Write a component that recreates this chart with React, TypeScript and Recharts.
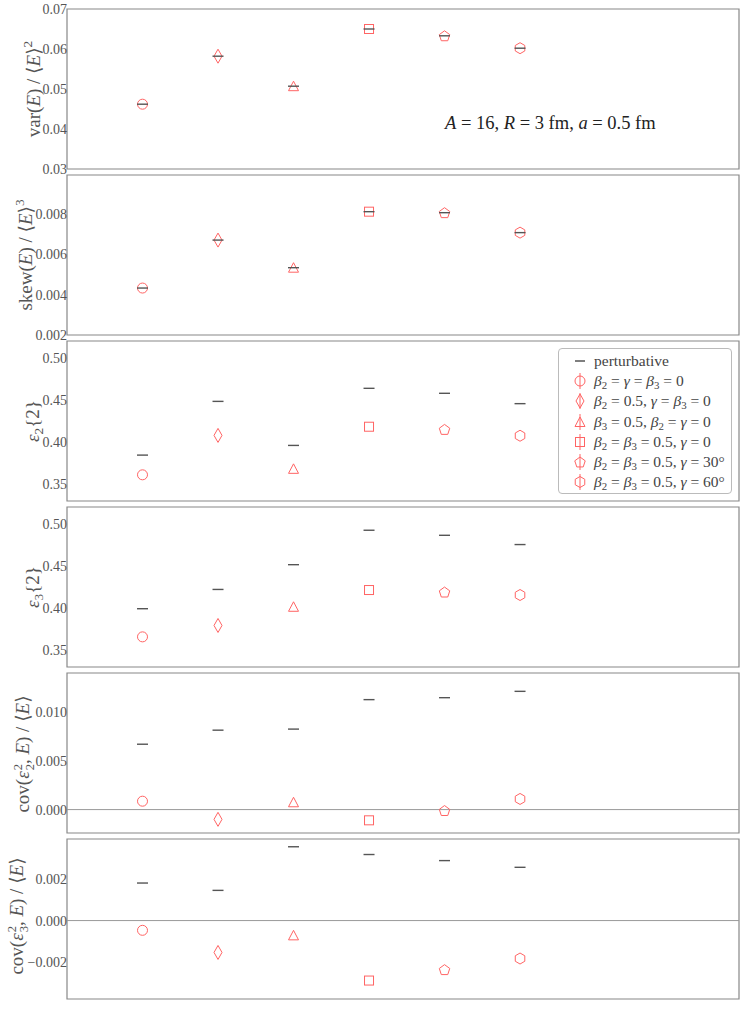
import React from "react";
import {
  ReferenceArea,
  ReferenceLine,
  Scatter,
  ScatterChart,
  XAxis,
  YAxis,
} from "recharts";

// six source configurations, one x slot each
const CONFIG_IDS = [0, 1, 2, 3, 4, 5];
const MARKERS = ["circle", "thinDiamond", "triangle", "square", "pentagon", "hexagon"];

const VAR_E = [0.0462, 0.0582, 0.0507, 0.065, 0.0633, 0.0602];
const SKEW_E = [0.00433, 0.00671, 0.00534, 0.00812, 0.00807, 0.00708];
const EPS2 = [0.3611, 0.4079, 0.3682, 0.4182, 0.415, 0.4075];
const EPS2_PERT = [0.3845, 0.4483, 0.396, 0.4638, 0.4579, 0.4456];
const EPS3 = [0.3658, 0.3793, 0.4015, 0.4214, 0.419, 0.4155];
const EPS3_PERT = [0.3992, 0.4221, 0.4515, 0.4924, 0.4864, 0.4754];
const COV2 = [0.00086, -0.001, 0.00075, -0.0011, -0.0001, 0.00109];
const COV2_PERT = [0.0067, 0.00814, 0.00825, 0.01127, 0.01147, 0.01212];
const COV3 = [-0.000465, -0.00152, -0.000705, -0.00286, -0.00234, -0.00181];
const COV3_PERT = [0.00179, 0.00144, 0.00352, 0.00315, 0.00286, 0.00254];

const X_DOMAIN: [number, number] = [-1, 7.9];

const RED = "#ff6464";
const PERT = "#555555";
const FRAME = "#888888";
const FONT = '"Liberation Serif", "DejaVu Serif", serif';

const W = 747;
const PAD = 12; // room above/below the frame for edge tick labels
const H = 160 + 2 * PAD;

const toRows = (vals: number[]) => vals.map((y, i) => ({ x: CONFIG_IDS[i], y }));

const poly = (n: number, r: number, cx: number, cy: number) =>
  Array.from({ length: n }, (_, k) => {
    const a = -Math.PI / 2 + (2 * Math.PI * k) / n;
    return `${cx + r * Math.cos(a)},${cy + r * Math.sin(a)}`;
  }).join(" ");

const MarkerGlyph = ({ kind, cx, cy }: { kind: string; cx: number; cy: number }) => {
  const p = { fill: "none", stroke: RED, strokeWidth: 1 };
  switch (kind) {
    case "circle":
      return <circle cx={cx} cy={cy} r={5} {...p} />;
    case "thinDiamond":
      return <polygon points={`${cx},${cy - 7} ${cx + 4},${cy} ${cx},${cy + 7} ${cx - 4},${cy}`} {...p} />;
    case "triangle":
      return <polygon points={`${cx},${cy - 5} ${cx + 5},${cy + 4.5} ${cx - 5},${cy + 4.5}`} {...p} />;
    case "square":
      return <rect x={cx - 4.5} y={cy - 4.5} width={9} height={9} {...p} />;
    case "pentagon":
      return <polygon points={poly(5, 5.5, cx, cy + 0.5)} {...p} />;
    default:
      return <polygon points={poly(6, 5.5, cx, cy)} {...p} />;
  }
};

const redShape = (props: any) => (
  <MarkerGlyph kind={MARKERS[props.payload.x]} cx={props.cx} cy={props.cy} />
);

const dashShape = (props: any) => (
  <line x1={props.cx - 5.5} x2={props.cx + 5.5} y1={props.cy} y2={props.cy} stroke={PERT} strokeWidth={1.4} />
);

const fmt = (digits: number) => (v: number) =>
  (v < 0 ? "\u2212" : "") + Math.abs(v).toFixed(digits);

type PanelProps = {
  idx: number;
  values: number[];
  pert: number[];
  domain: [number, number];
  ticks: number[];
  digits: number;
  zero?: boolean;
};

const Panel = ({ idx, values, pert, domain, ticks, digits, zero }: PanelProps) => (
  <div style={{ position: "absolute", left: 0, top: 9.3 + 166 * idx - PAD }}>
    <ScatterChart width={W} height={H} margin={{ top: PAD, right: 8, bottom: PAD, left: 7 }}>
      <XAxis type="number" dataKey="x" domain={X_DOMAIN} hide />
      <YAxis
        type="number"
        dataKey="y"
        width={60}
        domain={domain}
        ticks={ticks}
        interval={0}
        allowDataOverflow
        axisLine={false}
        tickLine={false}
        tickSize={0}
        tickMargin={0}
        tickFormatter={fmt(digits)}
        tick={{ fontSize: 14, fill: "#555", fontFamily: FONT }}
      />
      {zero && <ReferenceLine y={0} stroke="#999" strokeWidth={1} />}
      <ReferenceArea
        x1={X_DOMAIN[0]}
        x2={X_DOMAIN[1]}
        y1={domain[0]}
        y2={domain[1]}
        fill="none"
        fillOpacity={0}
        stroke={FRAME}
        strokeWidth={1.2}
      />
      <Scatter data={toRows(values)} shape={redShape} isAnimationActive={false} />
      <Scatter data={toRows(pert)} shape={dashShape} isAnimationActive={false} />
    </ScatterChart>
  </div>
);

const SupSub = ({ sup, sub }: { sup: string; sub: string }) => (
  <span
    style={{
      display: "inline-flex",
      flexDirection: "column",
      fontSize: "0.66em",
      lineHeight: 0.95,
      verticalAlign: "middle",
      marginLeft: 1,
    }}
  >
    <span>{sup}</span>
    <span>{sub}</span>
  </span>
);

const YLabel = ({ x, y, children }: { x: number; y: number; children: React.ReactNode }) => (
  <div
    style={{
      position: "absolute",
      left: x,
      top: y,
      transform: "translate(-50%, -50%) rotate(-90deg)",
      whiteSpace: "nowrap",
      fontFamily: FONT,
      fontSize: 19,
      lineHeight: "20px",
      color: "#555",
    }}
  >
    {children}
  </div>
);

const LEGEND_LABELS: React.ReactNode[] = [
  <>
    <i>β</i><sub>2</sub> = <i>γ</i> = <i>β</i><sub>3</sub> = 0
  </>,
  <>
    <i>β</i><sub>2</sub> = 0.5, <i>γ</i> = <i>β</i><sub>3</sub> = 0
  </>,
  <>
    <i>β</i><sub>3</sub> = 0.5, <i>β</i><sub>2</sub> = <i>γ</i> = 0
  </>,
  <>
    <i>β</i><sub>2</sub> = <i>β</i><sub>3</sub> = 0.5, <i>γ</i> = 0
  </>,
  <>
    <i>β</i><sub>2</sub> = <i>β</i><sub>3</sub> = 0.5, <i>γ</i> = 30°
  </>,
  <>
    <i>β</i><sub>2</sub> = <i>β</i><sub>3</sub> = 0.5, <i>γ</i> = 60°
  </>,
];

const subStyle = `sub{font-size:0.7em;vertical-align:-0.3em;line-height:0}`;

const LegendBox = () => (
  <div
    style={{
      position: "absolute",
      left: 558,
      top: 348,
      width: 174,
      height: 146,
      border: "1px solid #bbb",
      borderRadius: 4,
      background: "#fff",
      fontFamily: FONT,
      fontSize: 15.5,
      color: "#444",
      boxSizing: "border-box",
      paddingTop: 2,
      whiteSpace: "nowrap",
      overflow: "hidden",
    }}
  >
    <div style={{ display: "flex", alignItems: "center", height: 20.2 }}>
      <svg width={35} height={20} style={{ flex: "none" }}>
        <line x1={16} x2={26} y1={10} y2={10} stroke={PERT} strokeWidth={1.4} />
      </svg>
      <span>perturbative</span>
    </div>
    {LEGEND_LABELS.map((lab, i) => (
      <div key={i} style={{ display: "flex", alignItems: "center", height: 20.2 }}>
        <svg width={35} height={20} style={{ flex: "none" }}>
          <line x1={21} x2={21} y1={2} y2={18} stroke={RED} strokeWidth={1} />
          <MarkerGlyph kind={MARKERS[i]} cx={21} cy={10} />
        </svg>
        <span>{lab}</span>
      </div>
    ))}
  </div>
);

export default function App() {
  return (
    <div
      style={{
        position: "absolute",
        left: 0,
        top: 0,
        width: W,
        height: 1009,
        background: "#fff",
        overflow: "hidden",
      }}
    >
      <style>{subStyle}</style>
      <Panel idx={0} values={VAR_E} pert={VAR_E} domain={[0.03, 0.07]} ticks={[0.03, 0.04, 0.05, 0.06, 0.07]} digits={2} />
      <Panel idx={1} values={SKEW_E} pert={SKEW_E} domain={[0.002, 0.00994]} ticks={[0.002, 0.004, 0.006, 0.008]} digits={3} />
      <Panel idx={2} values={EPS2} pert={EPS2_PERT} domain={[0.33, 0.52]} ticks={[0.35, 0.4, 0.45, 0.5]} digits={2} />
      <Panel idx={3} values={EPS3} pert={EPS3_PERT} domain={[0.33, 0.52]} ticks={[0.35, 0.4, 0.45, 0.5]} digits={2} />
      <Panel idx={4} values={COV2} pert={COV2_PERT} domain={[-0.0024, 0.014]} ticks={[0, 0.005, 0.01]} digits={3} zero />
      <Panel idx={5} values={COV3} pert={COV3_PERT} domain={[-0.00374, 0.00389]} ticks={[-0.002, 0, 0.002]} digits={3} zero />

      <YLabel x={31} y={89}>
        var(<i>E</i>) / ⟨<i>E</i>⟩<sup style={{ fontSize: "0.7em" }}>2</sup>
      </YLabel>
      <YLabel x={23} y={255}>
        skew(<i>E</i>) / ⟨<i>E</i>⟩<sup style={{ fontSize: "0.7em" }}>3</sup>
      </YLabel>
      <YLabel x={33} y={421}>
        <i>ε</i><sub>2</sub>{"{2}"}
      </YLabel>
      <YLabel x={33} y={587}>
        <i>ε</i><sub>3</sub>{"{2}"}
      </YLabel>
      <YLabel x={25} y={754}>
        cov(<i>ε</i>
        <SupSub sup="2" sub="2" />, <i>E</i>) / ⟨<i>E</i>⟩
      </YLabel>
      <YLabel x={19} y={916}>
        cov(<i>ε</i>
        <SupSub sup="2" sub="3" />, <i>E</i>) / ⟨<i>E</i>⟩
      </YLabel>

      <div
        style={{
          position: "absolute",
          left: 445,
          top: 113,
          fontFamily: FONT,
          fontSize: 18.5,
          color: "#222",
          whiteSpace: "nowrap",
        }}
      >
        <i>A</i> = 16, <i>R</i> = 3 fm, <i>a</i> = 0.5 fm
      </div>

      <LegendBox />
    </div>
  );
}
